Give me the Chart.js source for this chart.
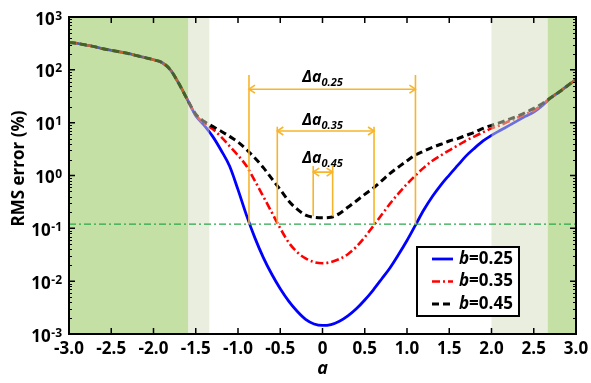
<!DOCTYPE html>
<html><head><meta charset="utf-8">
<script src="https://cdn.jsdelivr.net/npm/chart.js@4/dist/chart.umd.min.js"></script>
<style>html,body{margin:0;padding:0;background:#fff}canvas{display:block}</style>
</head><body>
<canvas id="c" width="591" height="383"></canvas>
<script>
// ---- data ----
const aValues = [-3.0,-2.9,-2.8,-2.7,-2.6,-2.5,-2.4,-2.3,-2.2,-2.1,-2.0,-1.9,-1.8,-1.7,-1.6,-1.5,-1.4,-1.3,-1.2,-1.1,-1.0,-0.9,-0.8,-0.7,-0.6,-0.5,-0.4,-0.3,-0.2,-0.1,0.0,0.1,0.2,0.3,0.4,0.5,0.6,0.7,0.8,0.9,1.0,1.1,1.2,1.3,1.4,1.5,1.6,1.7,1.8,1.9,2.0,2.1,2.2,2.3,2.4,2.5,2.6,2.7,2.8,2.9,3.0];
const rmsB025 = [331,316,295,275,251,234,219,204,186,170,155,138,100,55,27.5,
  13.5,8.9,5.5,3.0,1.51,0.54,0.178,0.066,0.028,0.0135,
  0.0072,0.0042,0.0027,0.0019,0.00155,
  0.00145,
  0.00151,0.00174,0.0022,0.0030,0.0044,0.0068,0.011,0.018,0.032,0.059,
  0.115,0.224,0.40,0.66,1.02,1.55,2.35,3.3,4.5,5.75,
  7.1,8.7,10.7,13.2,15.8,20.9,29.5,38,50,66];
const rmsB035 = [331,316,295,275,251,234,219,204,186,170,155,138,100,55,27.5,
  14.1,9.55,7.6,5.4,3.6,2.4,1.51,0.79,0.40,0.20,
  0.10,0.054,0.0355,0.027,0.023,
  0.0219,
  0.023,0.0263,0.0324,0.0447,0.068,0.11,0.18,0.295,0.457,0.69,
  1.0,1.41,1.9,2.4,3.0,3.7,4.6,5.5,6.6,7.8,
  8.9,10.5,12.3,14.5,17.0,21.9,29.5,38,50,66];
const rmsB045 = [331,316,295,275,251,234,219,204,186,170,155,138,100,55,27.5,
  14.5,10.5,8.5,6.9,5.5,4.3,3.1,2.14,1.41,0.87,
  0.54,0.33,0.23,0.178,0.162,
  0.158,
  0.162,0.19,0.25,0.33,0.44,0.575,0.79,1.10,1.45,1.9,
  2.45,2.9,3.4,3.9,4.5,5.0,5.75,6.6,7.8,8.9,
  10.0,11.5,13.2,15.5,18.6,22.9,29.5,38,50,66];
const bValues = ['0.25','0.35','0.45'];
const xTickValues = [-3.0,-2.5,-2.0,-1.5,-1.0,-0.5,0,0.5,1.0,1.5,2.0,2.5,3.0];
const xTickLabels = ['-3.0','-2.5','-2.0','-1.5','-1.0','-0.5','0','0.5','1.0','1.5','2.0','2.5','3.0'];
const yTickExponents = [-3,-2,-1,0,1,2,3];
const yTitle = 'RMS error (%)';
const xTitle = 'a';
const thresholdValue = 0.12;
const darkBands = [[-3.0,-1.59],[2.665,3.0]];
const lightBands = [[-1.59,-1.34],[2.0,2.665]];
// Δa annotations (one entry per b value)
const deltaSubs   = ['0.25','0.35','0.45'];
const deltaLeft   = [-0.87,-0.535,-0.11];
const deltaRight  = [1.10,0.61,0.12];
const deltaTop    = [80,8.4,1.51];
const deltaArrow  = [43,6.95,1.16];
const deltaBottom = [0.12,0.12,0.17];
const deltaLabelY = [59,9.0,1.75];
const deltaLabelX = [0,0,0];

const FONT = "'Open Sans', 'Liberation Sans', sans-serif";
const ORANGE = '#f7b52c';

const seriesStyle = [
  {color:'#0000ff', dash:[], width:2.8, order:3},
  {color:'#ff0000', dash:[8,3,2,3], width:2.6, order:2},
  {color:'#000000', dash:[7,4], width:3, order:1}
];
const seriesData = [rmsB025, rmsB035, rmsB045];

const datasets = seriesData.map((vals,i)=>({
  label: 'b=' + bValues[i],
  data: aValues.map((a,j)=>({x:a, y:vals[j]})),
  borderColor: seriesStyle[i].color,
  borderDash: seriesStyle[i].dash,
  borderWidth: seriesStyle[i].width,
  order: seriesStyle[i].order,
  pointRadius: 0,
  fill: false,
  cubicInterpolationMode: 'monotone'
}));

function arrowHead(ctx, x, y, dir){
  ctx.beginPath();
  ctx.moveTo(x + dir*6, y - 4);
  ctx.lineTo(x, y);
  ctx.lineTo(x + dir*6, y + 4);
  ctx.stroke();
}

const overlay = {
  id: 'overlay',
  afterDatasetsDraw(chart){
    const {ctx, chartArea: ca, scales:{x, y}} = chart;
    ctx.save();
    ctx.beginPath(); ctx.rect(ca.left, ca.top, ca.right-ca.left, ca.bottom-ca.top); ctx.clip();
    ctx.fillStyle = 'rgba(139,193,75,0.5)';
    darkBands.forEach(([a,b])=>{const x0=x.getPixelForValue(a), x1=x.getPixelForValue(b); ctx.fillRect(x0, ca.top, x1-x0, ca.bottom-ca.top);});
    ctx.fillStyle = 'rgba(211,221,189,0.5)';
    lightBands.forEach(([a,b])=>{const x0=x.getPixelForValue(a), x1=x.getPixelForValue(b); ctx.fillRect(x0, ca.top, x1-x0, ca.bottom-ca.top);});
    // threshold dash-dot line
    const ty = y.getPixelForValue(thresholdValue);
    ctx.strokeStyle = '#2aa84a'; ctx.lineWidth = 1.3; ctx.setLineDash([7,3,2,3]);
    ctx.beginPath(); ctx.moveTo(ca.left, ty); ctx.lineTo(ca.right, ty); ctx.stroke();
    ctx.setLineDash([]);
    // Δa annotations
    ctx.strokeStyle = ORANGE; ctx.lineWidth = 1.6;
    for (let i=0;i<deltaSubs.length;i++){
      const xl = x.getPixelForValue(deltaLeft[i]), xr = x.getPixelForValue(deltaRight[i]);
      const yt = y.getPixelForValue(deltaTop[i]), yb = y.getPixelForValue(deltaBottom[i]);
      const ya = y.getPixelForValue(deltaArrow[i]);
      ctx.beginPath();
      ctx.moveTo(xl, yt); ctx.lineTo(xl, yb);
      ctx.moveTo(xr, yt); ctx.lineTo(xr, yb);
      ctx.moveTo(xl, ya); ctx.lineTo(xr, ya);
      ctx.stroke();
      arrowHead(ctx, xl, ya, 1);
      arrowHead(ctx, xr, ya, -1);
      // label
      ctx.fillStyle = '#000';
      ctx.textBaseline = 'alphabetic'; ctx.textAlign = 'left';
      const mainFont = 'italic bold 16px ' + FONT, subFont = 'italic bold 11px ' + FONT;
      ctx.font = mainFont; const w1 = ctx.measureText('Δa').width;
      ctx.font = subFont; const w2 = ctx.measureText(deltaSubs[i]).width;
      const cx = x.getPixelForValue(deltaLabelX[i]);
      const by = y.getPixelForValue(deltaLabelY[i]);
      const x0 = cx - (w1 + w2)/2;
      ctx.font = mainFont; ctx.fillText('Δa', x0, by);
      ctx.font = subFont; ctx.fillText(deltaSubs[i], x0 + w1, by + 4);
    }
    ctx.restore();
  },
  afterDraw(chart){
    const {ctx, chartArea: ca, scales:{x, y}} = chart;
    ctx.save();
    ctx.strokeStyle = '#000';
    // ticks (inward)
    ctx.lineWidth = 1.5;
    ctx.beginPath();
    xTickValues.forEach(v=>{
      const px = x.getPixelForValue(v);
      ctx.moveTo(px, ca.bottom); ctx.lineTo(px, ca.bottom-6);
      ctx.moveTo(px, ca.top); ctx.lineTo(px, ca.top+6);
    });
    yTickExponents.forEach(e=>{
      const py = y.getPixelForValue(Math.pow(10,e));
      ctx.moveTo(ca.left, py); ctx.lineTo(ca.left+6, py);
      ctx.moveTo(ca.right, py); ctx.lineTo(ca.right-6, py);
    });
    ctx.stroke();
    ctx.lineWidth = 1;
    ctx.beginPath();
    yTickExponents.slice(0,-1).forEach(e=>{
      for (let m=2;m<=9;m++){
        const py = Math.round(y.getPixelForValue(m*Math.pow(10,e))) + 0.5;
        ctx.moveTo(ca.left, py); ctx.lineTo(ca.left+3, py);
        ctx.moveTo(ca.right, py); ctx.lineTo(ca.right-3, py);
      }
    });
    ctx.stroke();
    // frame
    ctx.lineWidth = 2;
    ctx.strokeRect(ca.left, ca.top, ca.right-ca.left, ca.bottom-ca.top);
    // x tick labels
    ctx.fillStyle = '#000'; ctx.textBaseline = 'alphabetic'; ctx.textAlign = 'center';
    ctx.font = 'bold 17px ' + FONT;
    xTickValues.forEach((v,i)=>{
      ctx.fillText(xTickLabels[i], x.getPixelForValue(v), ca.bottom + 19.5);
    });
    // y tick labels 10^n
    yTickExponents.forEach(e=>{
      const py = y.getPixelForValue(Math.pow(10,e));
      const exp = e < 0 ? '-' + Math.abs(e) : String(e);
      ctx.font = 'bold 12px ' + FONT;
      const we = ctx.measureText(exp).width;
      const xr = ca.left - 7;
      ctx.textAlign = 'left';
      ctx.fillText(exp, xr - we, py + 2.5);
      ctx.font = 'bold 17px ' + FONT;
      ctx.textAlign = 'right';
      ctx.fillText('10', xr - we - 0.5, py + 7.5);
    });
    // y title
    ctx.save();
    ctx.translate(19, 168.5);
    ctx.rotate(-Math.PI/2);
    ctx.font = 'bold 17px ' + FONT; ctx.textAlign = 'center'; ctx.textBaseline = 'middle';
    ctx.fillText(yTitle, 0, 0);
    ctx.restore();
    // legend
    const bw = 102, bh = 69;
    const bx = ca.right - 57 - bw, by = ca.bottom - 18 - bh;
    ctx.fillStyle = '#fff'; ctx.fillRect(bx, by, bw, bh);
    ctx.lineWidth = 2; ctx.strokeStyle = '#000'; ctx.strokeRect(bx, by, bw, bh);
    chart.data.datasets.forEach((ds,i)=>{
      const cy = by + 12 + i*22.5;
      ctx.strokeStyle = ds.borderColor; ctx.lineWidth = ds.borderWidth;
      ctx.setLineDash(ds.borderDash || []);
      ctx.beginPath(); ctx.moveTo(bx+15, cy); ctx.lineTo(bx+36, cy); ctx.stroke();
      ctx.setLineDash([]);
      ctx.fillStyle = '#000'; ctx.textAlign = 'left'; ctx.textBaseline = 'middle';
      ctx.font = 'italic bold 17px ' + FONT;
      ctx.fillText('b', bx+42, cy);
      const wb = ctx.measureText('b').width;
      ctx.font = 'bold 17px ' + FONT;
      ctx.fillText('=' + bValues[i], bx+42+wb, cy);
    });
    ctx.restore();
  }
};

new Chart(document.getElementById('c'), {
  type: 'line',
  data: { datasets },
  options: {
    responsive: false,
    animation: false,
    layout: { padding: { left: 0, right: 15, top: 17, bottom: 0 } },
    plugins: { legend: { display: false }, tooltip: { enabled: false } },
    scales: {
      x: {
        type: 'linear', min: -3, max: 3,
        afterBuildTicks: s => { s.ticks = xTickValues.map(v=>({value:v})); },
        ticks: { display: false },
        grid: { display: false, drawTicks: false },
        border: { display: false },
        title: { display: true, text: xTitle, color: '#000',
          font: { family: FONT, weight: 'bold', style: 'italic', size: 18 },
          padding: { top: 0, bottom: 3 } },
        afterFit: s => { s.height = 49; }
      },
      y: {
        type: 'logarithmic', min: 0.001, max: 1000,
        ticks: { display: false },
        grid: { display: false, drawTicks: false },
        border: { display: false },
        afterFit: s => { s.width = 69; }
      }
    }
  },
  plugins: [overlay]
});
</script>
</body></html>
